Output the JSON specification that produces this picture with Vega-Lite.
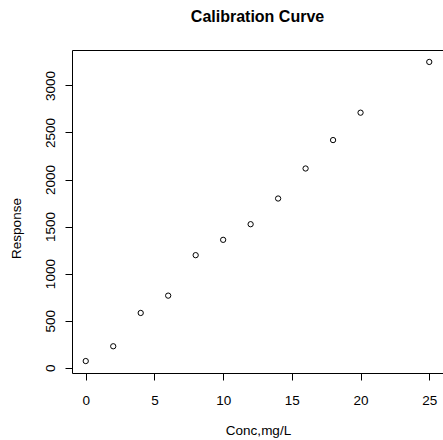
{
  "$schema": "https://vega.github.io/schema/vega-lite/v6.json",
  "autosize": {"type": "none"},
  "padding": {"left": 72, "top": 50, "right": 0, "bottom": 67},
  "width": 371,
  "height": 323,
  "background": "white",
  "title": {
    "text": "Calibration Curve",
    "font": "Liberation Sans",
    "fontSize": 16,
    "fontWeight": "bold",
    "color": "black",
    "anchor": "middle",
    "offset": 25
  },
  "config": {
    "view": {"stroke": "black", "strokeWidth": 1},
    "axis": {
      "labelFont": "Liberation Sans",
      "titleFont": "Liberation Sans",
      "labelFontSize": 13.5,
      "titleFontSize": 13.5,
      "titleFontWeight": "normal",
      "labelColor": "black",
      "titleColor": "black",
      "tickColor": "black",
      "tickSize": 7,
      "domain": false,
      "grid": false
    }
  },
  "data": {
    "values": [
      {"conc": 0, "response": 71},
      {"conc": 2, "response": 228},
      {"conc": 4, "response": 582},
      {"conc": 6, "response": 766},
      {"conc": 8, "response": 1196},
      {"conc": 10, "response": 1359},
      {"conc": 12, "response": 1525},
      {"conc": 14, "response": 1798},
      {"conc": 16, "response": 2117},
      {"conc": 18, "response": 2419},
      {"conc": 20, "response": 2710},
      {"conc": 25, "response": 3249}
    ]
  },
  "mark": {"type": "point", "shape": "circle", "filled": false, "stroke": "black", "strokeWidth": 1, "size": 28, "opacity": 1},
  "encoding": {
    "x": {
      "field": "conc",
      "type": "quantitative",
      "scale": {"domain": [-1, 26], "nice": false, "zero": false},
      "axis": {
        "title": "Conc,mg/L",
        "values": [0, 5, 10, 15, 20, 25],
        "format": "d",
        "labelPadding": 13,
        "labelBaseline": "top",
        "titleX": 186,
        "titleY": 57,
        "titleAnchor": null,
        "titleBaseline": "middle",
        "titleAlign": "center"
      }
    },
    "y": {
      "field": "response",
      "type": "quantitative",
      "scale": {"domain": [-56, 3376], "nice": false, "zero": false},
      "axis": {
        "title": "Response",
        "values": [0, 500, 1000, 1500, 2000, 2500, 3000],
        "format": "d",
        "labelAngle": -90,
        "labelAlign": "center",
        "labelBaseline": "bottom",
        "labelPadding": 8,
        "titleAngle": -90,
        "titleX": -56,
        "titleY": 178,
        "titleAlign": "center",
        "titleBaseline": "middle"
      }
    }
  }
}
